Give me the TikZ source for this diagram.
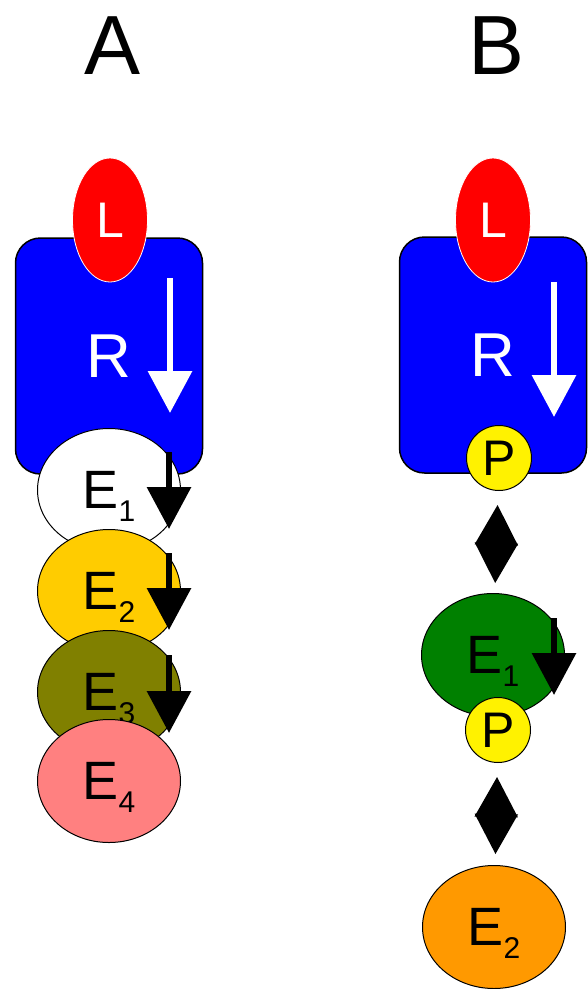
\documentclass[tikz,border=0pt]{standalone}
\usepackage{fontspec}
\setmainfont{Liberation Sans}
\usetikzlibrary{arrows.meta,shapes.geometric}

\definecolor{gold}{HTML}{FFCC00}
\definecolor{darkolive}{HTML}{808000}
\definecolor{salmon}{HTML}{FF8080}
\definecolor{darkgreen}{HTML}{008000}
\definecolor{tangerine}{HTML}{FF9900}

\newcommand{\enz}[1]{E\smash{\lower13pt\hbox{\fontsize{30}{30}\selectfont #1}}}

\tikzset{
  rcpt/.style={draw, line width=1.5pt, fill=blue, rounded corners=25pt, minimum width=187pt, minimum height=236pt, text=white, font=\fontsize{62}{62}\selectfont},
  lig/.style={ellipse, draw=white, line width=0.8pt, fill=red, minimum width=75pt, minimum height=124pt, inner sep=0pt, text=white, font=\fontsize{50}{50}\selectfont},
  enzyme/.style={ellipse, draw, line width=1pt, minimum width=143pt, minimum height=123pt, inner sep=0pt, font=\fontsize{54}{54}\selectfont},
  phos/.style={circle, draw, line width=1pt, fill=yellow, minimum size=65pt, inner sep=0pt, font=\fontsize{50}{50}\selectfont},
  actarr/.style={line width=6.5pt, -{Triangle[width=43pt,length=42pt]}},
  dblarr/.style={line width=2pt, {Triangle[width=43pt,length=40pt]}-{Triangle[width=43pt,length=40pt]}},
  panel/.style={font=\fontsize{84}{84}\selectfont}
}

\begin{document}
\begin{tikzpicture}[x=1pt,y=-1pt]
\useasboundingbox (0,0) rectangle (587,989);

\node [panel] (labA) at (113,46) {A};
\node [panel] (labB) at (497,46) {B};

% A
\node [rcpt] (RA) at (109,356) {R};
\node [lig] (LA) at (110,220) {L};
\draw [actarr, white] (170,278) -- (170,413);

\node [enzyme, fill=white] (E1a) at (109,490) {\enz{1}};
\draw [actarr] (169,452) -- (169,529);
\node [enzyme, fill=gold] (E2a) at (109,591) {\enz{2}};
\draw [actarr] (169,553) -- (169,630);
\node [enzyme, fill=darkolive] (E3a) at (109,692) {\enz{3}};
\draw [actarr] (169,655) -- (169,733);
\node [enzyme, fill=salmon] (E4a) at (109,781) {\enz{4}};

% B
\node [rcpt] (RB) at (493,355) {R};
\node [lig] (LB) at (493,220) {L};
\draw [actarr, white] (554,282) -- (554,417);
\node [phos] (P1) at (499,458) {P};

\node [enzyme, fill=darkgreen] (E1b) at (493,655) {\enz{1}};
\draw [actarr] (554,618) -- (554,695);
\node [phos] (P2) at (498,730) {P};
\node [enzyme, fill=tangerine] (E2b) at (494,927) {\enz{2}};

\draw [dblarr, shorten <=14pt, shorten >=10pt] (P1) -- (E1b);
\draw [dblarr, shorten <=14pt, shorten >=11pt] (P2) -- (E2b);

\end{tikzpicture}
\end{document}
